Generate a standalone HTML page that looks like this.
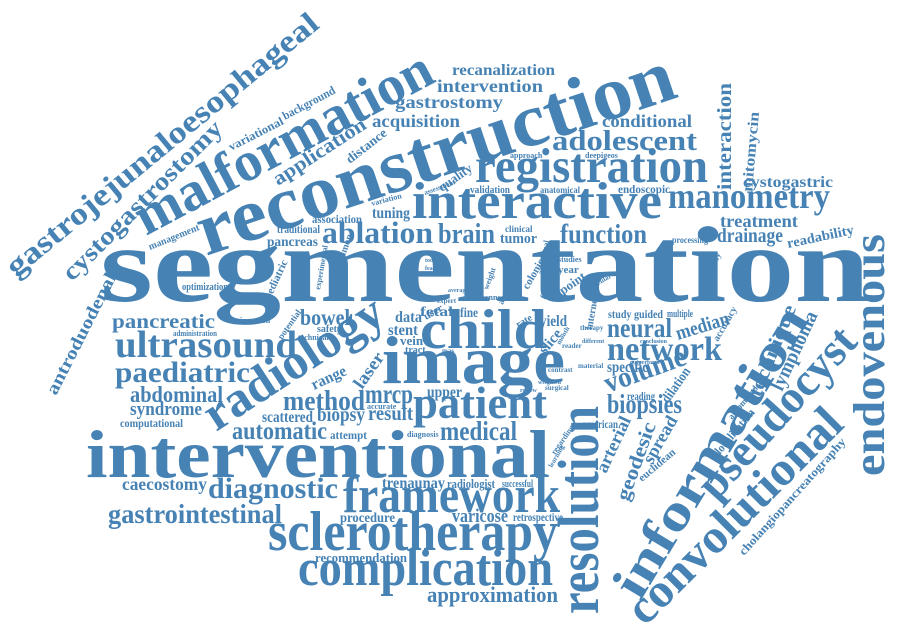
<!DOCTYPE html>
<html><head><meta charset="utf-8"><style>
html,body{margin:0;padding:0;background:#fff;width:900px;height:627px;overflow:hidden}
svg{display:block}
text{font-family:"Liberation Serif",serif;font-weight:bold;fill:#4682b4}
</style></head><body>
<svg width="900" height="627" viewBox="0 0 900 627" xmlns="http://www.w3.org/2000/svg">
<text x="100" y="301" font-size="108" textLength="770" lengthAdjust="spacingAndGlyphs">segmentation</text>
<text x="86" y="477" font-size="68" textLength="464" lengthAdjust="spacingAndGlyphs">interventional</text>
<text transform="translate(206,256) rotate(-18.6)" font-size="76" textLength="500" lengthAdjust="spacingAndGlyphs">reconstruction</text>
<text transform="translate(146,236) rotate(-28)" font-size="56" textLength="330" lengthAdjust="spacingAndGlyphs">malformation</text>
<text transform="translate(16,278) rotate(-39.5)" font-size="31" textLength="395" lengthAdjust="spacingAndGlyphs">gastrojejunaloesophageal</text>
<text transform="translate(72,282) rotate(-45)" font-size="25" textLength="215" lengthAdjust="spacingAndGlyphs">cystogastrostomy</text>
<text transform="translate(56,396) rotate(-63)" font-size="18" textLength="134" lengthAdjust="spacingAndGlyphs">antroduodenal</text>
<text transform="translate(216,432) rotate(-33)" font-size="50" textLength="205" lengthAdjust="spacingAndGlyphs">radiology</text>
<text transform="translate(598,614) rotate(-90)" font-size="58" textLength="208" lengthAdjust="spacingAndGlyphs">resolution</text>
<text transform="translate(640,602) rotate(-59)" font-size="52" textLength="330" lengthAdjust="spacingAndGlyphs">information</text>
<text transform="translate(645,627) rotate(-45)" font-size="48" textLength="284" lengthAdjust="spacingAndGlyphs">convolutional</text>
<text transform="translate(716,502) rotate(-48)" font-size="46" textLength="214" lengthAdjust="spacingAndGlyphs">pseudocyst</text>
<text transform="translate(884,476) rotate(-90)" font-size="44" textLength="242" lengthAdjust="spacingAndGlyphs">endovenous</text>
<text transform="translate(744,556) rotate(-48)" font-size="12" textLength="153" lengthAdjust="spacingAndGlyphs">cholangiopancreatography</text>

<text x="452" y="75" font-size="16" textLength="103" lengthAdjust="spacingAndGlyphs">recanalization</text>
<text x="437" y="92" font-size="18" textLength="106" lengthAdjust="spacingAndGlyphs">intervention</text>
<text x="395" y="108" font-size="18" textLength="108" lengthAdjust="spacingAndGlyphs">gastrostomy</text>
<text x="372" y="127" font-size="18" textLength="88" lengthAdjust="spacingAndGlyphs">acquisition</text>
<text x="602" y="127" font-size="18" textLength="90" lengthAdjust="spacingAndGlyphs">conditional</text>
<text x="552" y="150" font-size="29" textLength="145" lengthAdjust="spacingAndGlyphs">adolescent</text>
<text x="475" y="182" font-size="49" textLength="233" lengthAdjust="spacingAndGlyphs">registration</text>
<text x="412" y="218" font-size="52" textLength="250" lengthAdjust="spacingAndGlyphs">interactive</text>
<text x="668" y="208" font-size="36" textLength="162" lengthAdjust="spacingAndGlyphs">manometry</text>
<text x="743" y="187" font-size="16" textLength="90" lengthAdjust="spacingAndGlyphs">cystogastric</text>
<text x="720" y="227" font-size="18" textLength="78" lengthAdjust="spacingAndGlyphs">treatment</text>
<text x="717" y="242" font-size="20" textLength="66" lengthAdjust="spacingAndGlyphs">drainage</text>
<text transform="translate(788,248) rotate(-12)" font-size="14" textLength="68" lengthAdjust="spacingAndGlyphs">readability</text>
<text x="560" y="243" font-size="27" textLength="87" lengthAdjust="spacingAndGlyphs">function</text>
<text x="438" y="243" font-size="29" textLength="57" lengthAdjust="spacingAndGlyphs">brain</text>
<text x="500" y="243" font-size="15" textLength="37" lengthAdjust="spacingAndGlyphs">tumor</text>
<text x="505" y="232" font-size="9">clinical</text>
<text x="618" y="193" font-size="12" textLength="52" lengthAdjust="spacingAndGlyphs">endoscopic</text>
<text x="470" y="193" font-size="10" textLength="40" lengthAdjust="spacingAndGlyphs">validation</text>
<text x="540" y="193" font-size="9" textLength="40" lengthAdjust="spacingAndGlyphs">anatomical</text>
<text x="672" y="243" font-size="9" textLength="36" lengthAdjust="spacingAndGlyphs">processing</text>
<text x="510" y="158" font-size="8">approach</text>
<text x="585" y="158" font-size="8">deepigeos</text>
<text transform="translate(731,190) rotate(-90)" font-size="20" textLength="107" lengthAdjust="spacingAndGlyphs">interaction</text>
<text transform="translate(752,192) rotate(-85)" font-size="15" textLength="80" lengthAdjust="spacingAndGlyphs">mitomycin</text>
<text transform="translate(442,192) rotate(-35)" font-size="13" textLength="38" lengthAdjust="spacingAndGlyphs">quality</text>
<text transform="translate(425,195) rotate(-20)" font-size="7">assessment</text>

<text transform="translate(278,186) rotate(-33)" font-size="20" textLength="107" lengthAdjust="spacingAndGlyphs">application</text>
<text transform="translate(350,164) rotate(-38)" font-size="13" textLength="48" lengthAdjust="spacingAndGlyphs">distance</text>
<text transform="translate(231,151) rotate(-27)" font-size="12" textLength="60" lengthAdjust="spacingAndGlyphs">variational</text>
<text transform="translate(285,120) rotate(-28)" font-size="12" textLength="58" lengthAdjust="spacingAndGlyphs">background</text>
<text transform="translate(150,250) rotate(-22)" font-size="10" textLength="54" lengthAdjust="spacingAndGlyphs">management</text>
<text x="312" y="223" font-size="12" textLength="50" lengthAdjust="spacingAndGlyphs">association</text>
<text x="372" y="218" font-size="16" textLength="38" lengthAdjust="spacingAndGlyphs">tuning</text>
<text transform="translate(372,206) rotate(-15)" font-size="8">variation</text>
<text x="277" y="233" font-size="12" textLength="43" lengthAdjust="spacingAndGlyphs">traditional</text>
<text x="267" y="246" font-size="14" textLength="51" lengthAdjust="spacingAndGlyphs">pancreas</text>
<text x="322" y="243" font-size="31" textLength="111" lengthAdjust="spacingAndGlyphs">ablation</text>
<text x="182" y="290" font-size="11" textLength="46" lengthAdjust="spacingAndGlyphs">optimization</text>
<text transform="translate(270,300) rotate(-65)" font-size="11">pediatric</text>
<text transform="translate(320,290) rotate(-80)" font-size="8">experimental</text>
<text transform="translate(340,270) rotate(-70)" font-size="10">common</text>

<text x="420" y="316" font-size="14" textLength="33" lengthAdjust="spacingAndGlyphs">fetal</text>
<text x="437" y="303" font-size="7">expert</text>
<text x="425" y="262" font-size="6">tooning</text>
<text x="425" y="270" font-size="6">feasibil</text>
<text x="448" y="292" font-size="6">average</text>
<text x="485" y="300" font-size="8">cnns</text>
<text transform="translate(488,290) rotate(-70)" font-size="8">weight</text>
<text transform="translate(503,305) rotate(-70)" font-size="9">aware</text>
<text transform="translate(528,290) rotate(-60)" font-size="11">colonic</text>
<text transform="translate(545,300) rotate(-60)" font-size="9">field</text>
<text transform="translate(543,275) rotate(-80)" font-size="8">additional</text>
<text transform="translate(563,295) rotate(-35)" font-size="13">point</text>
<text x="558" y="273" font-size="11">year</text>
<text x="558" y="262" font-size="8">studies</text>
<text transform="translate(590,290) rotate(-30)" font-size="7">vascular</text>
<text transform="translate(592,330) rotate(-80)" font-size="10">internet</text>
<text transform="translate(702,295) rotate(-65)" font-size="9">sonography</text>
<text x="540" y="326" font-size="16" textLength="27" lengthAdjust="spacingAndGlyphs">yield</text>
<text transform="translate(545,355) rotate(-50)" font-size="15">slice</text>
<text transform="translate(560,345) rotate(-60)" font-size="7">month</text>
<text transform="translate(518,328) rotate(-30)" font-size="10">rate</text>
<text x="608" y="318" font-size="12" textLength="55" lengthAdjust="spacingAndGlyphs">study guided</text>
<text x="667" y="317" font-size="10" textLength="26" lengthAdjust="spacingAndGlyphs">multiple</text>
<text x="580" y="330" font-size="7">therapy</text>
<text x="582" y="343" font-size="6">different</text>
<text x="640" y="343" font-size="6">conclusion</text>
<text x="578" y="368" font-size="7">material</text>
<text x="630" y="364" font-size="6">outperform</text>
<text x="548" y="372" font-size="7">contrast</text>
<text x="562" y="348" font-size="7">reader</text>
<text x="545" y="390" font-size="7">surgical</text>
<text x="538" y="384" font-size="6">weighted</text>
<text x="520" y="392" font-size="6">review</text>

<text x="112" y="328" font-size="20" textLength="103" lengthAdjust="spacingAndGlyphs">pancreatic</text>
<text x="240" y="323" font-size="8">insertion</text>
<text x="173" y="336" font-size="8" textLength="44" lengthAdjust="spacingAndGlyphs">administration</text>
<text x="115" y="357" font-size="38" textLength="182" lengthAdjust="spacingAndGlyphs">ultrasound</text>
<text x="300" y="325" font-size="23" textLength="50" lengthAdjust="spacingAndGlyphs">bowel</text>
<text transform="translate(282,340) rotate(-55)" font-size="9">potential</text>
<text x="317" y="332" font-size="10">safety</text>
<text x="298" y="340" font-size="8">technical</text>
<text x="115" y="382" font-size="30" textLength="135" lengthAdjust="spacingAndGlyphs">paediatric</text>
<text x="130" y="402" font-size="23" textLength="93" lengthAdjust="spacingAndGlyphs">abdominal</text>
<text x="130" y="415" font-size="19" textLength="72" lengthAdjust="spacingAndGlyphs">syndrome</text>
<text x="120" y="427" font-size="12" textLength="63" lengthAdjust="spacingAndGlyphs">computational</text>
<text transform="translate(314,390) rotate(-25)" font-size="16" textLength="37" lengthAdjust="spacingAndGlyphs">range</text>
<text transform="translate(362,390) rotate(-55)" font-size="18" textLength="40" lengthAdjust="spacingAndGlyphs">laser</text>
<text x="283" y="410" font-size="29" textLength="82" lengthAdjust="spacingAndGlyphs">method</text>
<text x="365" y="403" font-size="27" textLength="48" lengthAdjust="spacingAndGlyphs">mrcp</text>
<text x="427" y="397" font-size="16" textLength="35" lengthAdjust="spacingAndGlyphs">upper</text>
<text x="367" y="409" font-size="8">accurate</text>
<text x="262" y="422" font-size="16" textLength="51" lengthAdjust="spacingAndGlyphs">scattered</text>
<text x="317" y="421" font-size="20" textLength="48" lengthAdjust="spacingAndGlyphs">biopsy</text>
<text x="368" y="420" font-size="21" textLength="45" lengthAdjust="spacingAndGlyphs">result</text>
<text x="413" y="418" font-size="45" textLength="134" lengthAdjust="spacingAndGlyphs">patient</text>
<text x="232" y="439" font-size="25" textLength="95" lengthAdjust="spacingAndGlyphs">automatic</text>
<text x="330" y="439" font-size="12" textLength="37" lengthAdjust="spacingAndGlyphs">attempt</text>
<text x="407" y="437" font-size="8">diagnosis</text>
<text x="440" y="440" font-size="27" textLength="77" lengthAdjust="spacingAndGlyphs">medical</text>
<text x="420" y="348" font-size="56" textLength="127" lengthAdjust="spacingAndGlyphs">child</text>
<text x="382" y="383" font-size="68" textLength="183" lengthAdjust="spacingAndGlyphs">image</text>
<text x="395" y="322" font-size="16" textLength="27" lengthAdjust="spacingAndGlyphs">data</text>
<text x="388" y="335" font-size="16" textLength="30" lengthAdjust="spacingAndGlyphs">stent</text>
<text x="400" y="345" font-size="13">vein</text>
<text x="405" y="353" font-size="10">tract</text>
<text x="460" y="317" font-size="14" textLength="18" lengthAdjust="spacingAndGlyphs">fine</text>
<text transform="translate(426,320) rotate(-30)" font-size="11">user</text>
<text x="442" y="353" font-size="7">mas</text>

<text x="122" y="490" font-size="18" textLength="85" lengthAdjust="spacingAndGlyphs">caecostomy</text>
<text x="208" y="498" font-size="30" textLength="130" lengthAdjust="spacingAndGlyphs">diagnostic</text>
<text x="343" y="512" font-size="52" textLength="217" lengthAdjust="spacingAndGlyphs">framework</text>
<text x="382" y="488" font-size="16" textLength="63" lengthAdjust="spacingAndGlyphs">trenaunay</text>
<text x="447" y="488" font-size="13" textLength="48" lengthAdjust="spacingAndGlyphs">radiologist</text>
<text x="502" y="487" font-size="10" textLength="31" lengthAdjust="spacingAndGlyphs">successful</text>
<text x="108" y="523" font-size="27" textLength="174" lengthAdjust="spacingAndGlyphs">gastrointestinal</text>
<text x="340" y="522" font-size="14" textLength="55" lengthAdjust="spacingAndGlyphs">procedure</text>
<text x="452" y="522" font-size="19" textLength="56" lengthAdjust="spacingAndGlyphs">varicose</text>
<text x="513" y="521" font-size="12" textLength="50" lengthAdjust="spacingAndGlyphs">retrospective</text>
<text x="268" y="550" font-size="56" textLength="290" lengthAdjust="spacingAndGlyphs">sclerotherapy</text>
<text x="315" y="562" font-size="13" textLength="92" lengthAdjust="spacingAndGlyphs">recommendation</text>
<text x="298" y="585" font-size="52" textLength="255" lengthAdjust="spacingAndGlyphs">complication</text>
<text x="427" y="602" font-size="22" textLength="131" lengthAdjust="spacingAndGlyphs">approximation</text>

<text x="607" y="337" font-size="27" textLength="65" lengthAdjust="spacingAndGlyphs">neural</text>
<text x="607" y="360" font-size="34" textLength="115" lengthAdjust="spacingAndGlyphs">network</text>
<text transform="translate(678,340) rotate(-17)" font-size="20" textLength="55" lengthAdjust="spacingAndGlyphs">median</text>
<text x="607" y="372" font-size="16" textLength="41" lengthAdjust="spacingAndGlyphs">specific</text>
<text transform="translate(608,393) rotate(-20)" font-size="29" textLength="85" lengthAdjust="spacingAndGlyphs">volume</text>
<text x="607" y="413" font-size="27" textLength="75" lengthAdjust="spacingAndGlyphs">biopsies</text>
<text x="627" y="400" font-size="12" textLength="28" lengthAdjust="spacingAndGlyphs">reading</text>
<text transform="translate(668,404) rotate(-55)" font-size="14" textLength="40" lengthAdjust="spacingAndGlyphs">dilation</text>
<text transform="translate(760,398) rotate(-68)" font-size="20" textLength="97" lengthAdjust="spacingAndGlyphs">technique</text>
<text transform="translate(782,392) rotate(-65)" font-size="20" textLength="85" lengthAdjust="spacingAndGlyphs">lymphoma</text>
<text transform="translate(718,342) rotate(-60)" font-size="10">accuracy</text>
<text transform="translate(606,474) rotate(-65)" font-size="18" textLength="60" lengthAdjust="spacingAndGlyphs">arterial</text>
<text transform="translate(628,502) rotate(-70)" font-size="20" textLength="82" lengthAdjust="spacingAndGlyphs">geodesic</text>
<text transform="translate(652,465) rotate(-60)" font-size="18" textLength="52" lengthAdjust="spacingAndGlyphs">spread</text>
<text transform="translate(642,482) rotate(-40)" font-size="11">euclidean</text>
<text transform="translate(720,455) rotate(-50)" font-size="12" textLength="55" lengthAdjust="spacingAndGlyphs">localization</text>
<text transform="translate(732,420) rotate(-50)" font-size="9">automated</text>
<text x="582" y="428" font-size="12" textLength="36" lengthAdjust="spacingAndGlyphs">american</text>
<text transform="translate(555,455) rotate(-55)" font-size="8">regarding</text>
<text transform="translate(552,468) rotate(-60)" font-size="7">learning</text>
</svg>
</body></html>
